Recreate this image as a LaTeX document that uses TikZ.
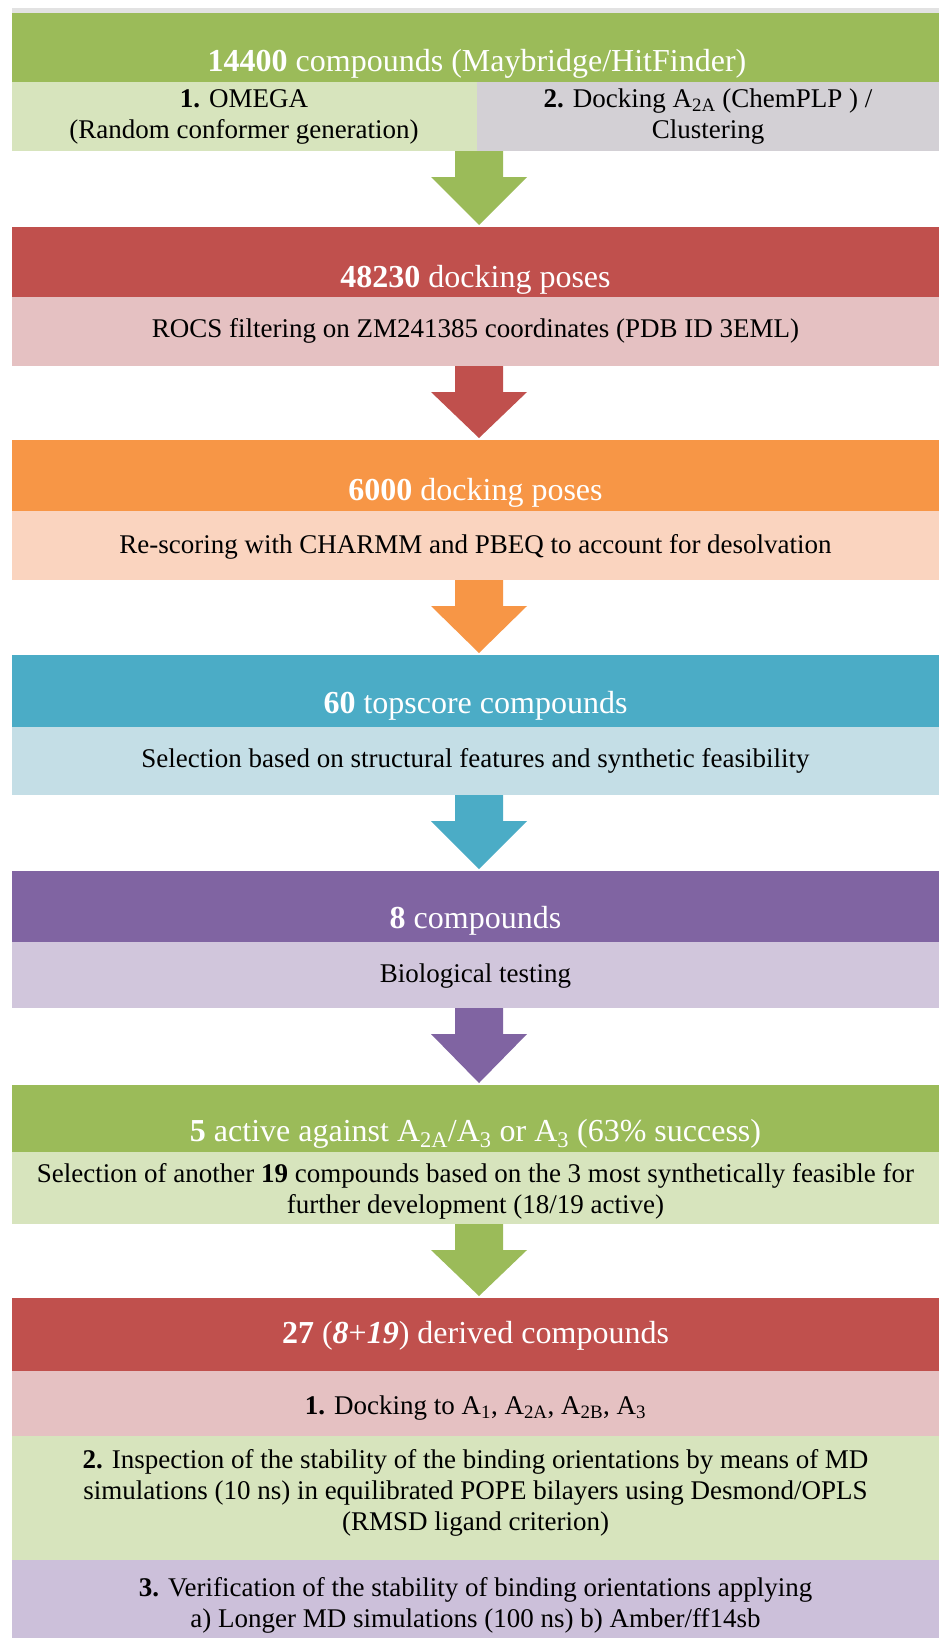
\documentclass[tikz,border=0pt]{standalone}
\usepackage{fontspec}
\setmainfont{Liberation Serif}
\newfontfamily\tnr{Liberation Serif}
\usetikzlibrary{calc}
\definecolor{cgreen}{HTML}{9BBB59}
\definecolor{cred}{HTML}{C0504D}
\definecolor{corange}{HTML}{F79646}
\definecolor{cblue}{HTML}{4BACC6}
\definecolor{cpurple}{HTML}{8064A2}
\definecolor{lgreen}{HTML}{D7E4BD}
\definecolor{lgray}{HTML}{D3D0D5}
\definecolor{lpink}{HTML}{E5C1C2}
\definecolor{lpeach}{HTML}{FAD4BF}
\definecolor{lblue}{HTML}{C4DEE6}
\definecolor{llav}{HTML}{D1C6DC}
\definecolor{llav2}{HTML}{CCC0DA}
\definecolor{topgray}{HTML}{E2E2E2}
\tikzset{
  box/.style={anchor=north west, minimum width=927pt, minimum height=#1, inner sep=0pt, outer sep=0pt, draw=none},
  halfbox/.style={anchor=north west, minimum height=69pt, inner sep=0pt, outer sep=0pt, draw=none},
  htext/.style={text=white, font=\tnr\fontsize{32}{37}\selectfont, align=center, inner sep=0pt},
  stext/.style={text=black, font=\tnr\fontsize{27}{31}\selectfont, align=center, inner sep=0pt},
}
\newcommand\blockarr[3]{%
  \fill[#1] ($(#2)+(-24,0)$) -- ($(#2)+(24,0)$) -- ($(#2)+(24,26)$) -- ($(#2)+(48,26)$)
    -- ($(#2 |- #3.north)+(0,-2)$) -- ($(#2)+(-48,26)$) -- ($(#2)+(-24,26)$) -- cycle;}
\begin{document}
\begin{tikzpicture}[x=1pt,y=-1pt]
\useasboundingbox (0,0) rectangle (939,1638);
\fill[white] (0,0) rectangle (939,1638);
\fill[topgray] (12,8) rectangle (939,13);

% row 1
\node[box=69pt, fill=cgreen] (h1) at (12,13) {};
\node[halfbox, minimum width=465pt, fill=lgreen] (s1a) at (12,82) {};
\node[halfbox, minimum width=462pt, fill=lgray] (s1b) at (477,82) {};
\node[htext] (t1) at (477,64) {\textbf{14400} compounds (Maybridge/HitFinder)};
\node[stext] (t1a) at (244,117) {\textbf{1.} OMEGA\\(Random conformer generation)};
\node[stext] (t1b) at (708,117) {\textbf{2.} Docking A\textsubscript{2A} (ChemPLP ) /\\Clustering};

% row 2
\node[box=70pt, fill=cred] (h2) at (12,227) {};
\node[box=69pt, fill=lpink] (s2) at (12,297) {};
\node[htext] (t2) at (h2.center |- 0,280) {\textbf{48230} docking poses};
\node[stext] (u2) at (s2.center |- 0,331) {ROCS filtering on ZM241385 coordinates (PDB ID 3EML)};

% row 3
\node[box=71pt, fill=corange] (h3) at (12,440) {};
\node[box=69pt, fill=lpeach] (s3) at (12,511) {};
\node[htext] (t3) at (h3.center |- 0,493) {\textbf{6000} docking poses};
\node[stext] (u3) at (s3.center |- 0,547) {Re-scoring with CHARMM and PBEQ to account for desolvation};

% row 4
\node[box=72pt, fill=cblue] (h4) at (12,655) {};
\node[box=68pt, fill=lblue] (s4) at (12,727) {};
\node[htext] (t4) at (h4.center |- 0,706) {\textbf{60} topscore compounds};
\node[stext] (u4) at (s4.center |- 0,761) {Selection based on structural features and synthetic feasibility};

% row 5
\node[box=71pt, fill=cpurple] (h5) at (12,871) {};
\node[box=66pt, fill=llav] (s5) at (12,942) {};
\node[htext] (t5) at (h5.center |- 0,921) {\textbf{8} compounds};
\node[stext] (u5) at (s5.center |- 0,976) {Biological testing};

% row 6
\node[box=67pt, fill=cgreen] (h6) at (12,1085) {};
\node[box=72pt, fill=lgreen] (s6) at (12,1152) {};
\node[htext] (t6) at (h6.center |- 0,1134) {\textbf{5} active against A\textsubscript{2A}/A\textsubscript{3} or A\textsubscript{3} (63\% success)};
\node[stext] (u6) at (s6.center |- 0,1191) {Selection of another \textbf{19} compounds based on the 3 most synthetically feasible for\\further development (18/19 active)};

% row 7
\node[box=73pt, fill=cred] (h7) at (12,1298) {};
\node[box=65pt, fill=lpink] (s7a) at (12,1371) {};
\node[box=124pt, fill=lgreen] (s7b) at (12,1436) {};
\node[box=78pt, fill=llav2] (s7c) at (12,1560) {};
\node[htext] (t7) at (h7.center |- 0,1336) {\textbf{27} (\textbf{\textit{8}}+\textbf{\textit{19}}) derived compounds};
\node[stext] (u7a) at (s7a.center |- 0,1408) {\textbf{1.} Docking to A\textsubscript{1}, A\textsubscript{2A}, A\textsubscript{2B}, A\textsubscript{3}};
\node[stext] (u7b) at (s7b.center |- 0,1493) {\textbf{2.} Inspection of the stability of the binding orientations by means of MD\\simulations (10 ns) in equilibrated POPE bilayers using Desmond/OPLS\\(RMSD ligand criterion)};
\node[stext] (u7c) at (s7c.center |- 0,1605) {\textbf{3.} Verification of the stability of binding orientations applying\\a) Longer MD simulations (100 ns) b) Amber/ff14sb};

% block arrows
\coordinate (a1) at ($(s1a.south east)+(2,0)$);
\coordinate (a2) at ($(s2.south)+(3.5,0)$);
\coordinate (a3) at ($(s3.south)+(3.5,0)$);
\coordinate (a4) at ($(s4.south)+(3.5,0)$);
\coordinate (a5) at ($(s5.south)+(3.5,0)$);
\coordinate (a6) at ($(s6.south)+(3.5,0)$);
\blockarr{cgreen}{a1}{h2}
\blockarr{cred}{a2}{h3}
\blockarr{corange}{a3}{h4}
\blockarr{cblue}{a4}{h5}
\blockarr{cpurple}{a5}{h6}
\blockarr{cgreen}{a6}{h7}
\end{tikzpicture}
\end{document}
